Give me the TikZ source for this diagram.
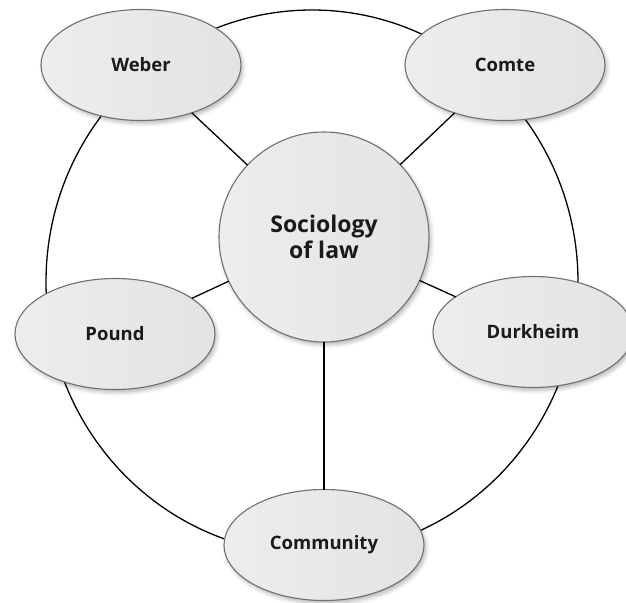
\documentclass[tikz,border=0pt]{standalone}
\usepackage{fontspec}
\setmainfont{Open Sans}
\usetikzlibrary{shapes.geometric,shadows.blur}

\definecolor{rimgray}{HTML}{707070}
\definecolor{inkblack}{HTML}{1A1A1A}

\tikzset{
  bubble/.style={
    draw=rimgray, line width=1.1pt,
    left color=black!7, middle color=white, right color=black!11,
    blur shadow={shadow xshift=2pt, shadow yshift=-3pt,
                 shadow blur radius=4pt, shadow opacity=28},
    text=inkblack, font=\bfseries\fontsize{18.5}{22}\selectfont,
    inner sep=0pt, outer sep=0pt, align=center
  },
  person/.style={bubble, ellipse, minimum width=200pt, minimum height=111pt},
  hub/.style={bubble, circle, minimum size=210pt,
              font=\bfseries\fontsize{23}{26}\selectfont},
  spoke/.style={draw=black, line width=1.3pt},
  ring/.style={draw=black, line width=1.3pt}
}

\begin{document}
\begin{tikzpicture}[x=1pt, y=-1pt]
  \useasboundingbox (0,0) rectangle (626,602);

  % outer ring joining the five outlying ideas
  \draw[ring] (312,282) ellipse [x radius=266pt, y radius=272pt];

  % central topic and the ideas around it
  \node[hub]    (soc)   at (324,237) {Sociology\\of law};
  \node[person] (weber) at (141,65)  {Weber};
  \node[person] (comte) at (505,65)  {Comte};
  \node[person] (pound) at (115,334) {Pound};
  \node[person] (durk)  at (533,332) {Durkheim};
  \node[person] (comm)  at (324,545) {Community};

  % spokes from the centre
  \draw[spoke] (soc) -- (weber);
  \draw[spoke] (soc) -- (comte);
  \draw[spoke] (soc) -- (pound);
  \draw[spoke] (soc) -- (durk);
  \draw[spoke] (soc.south) -- (comm.north);
\end{tikzpicture}
\end{document}
